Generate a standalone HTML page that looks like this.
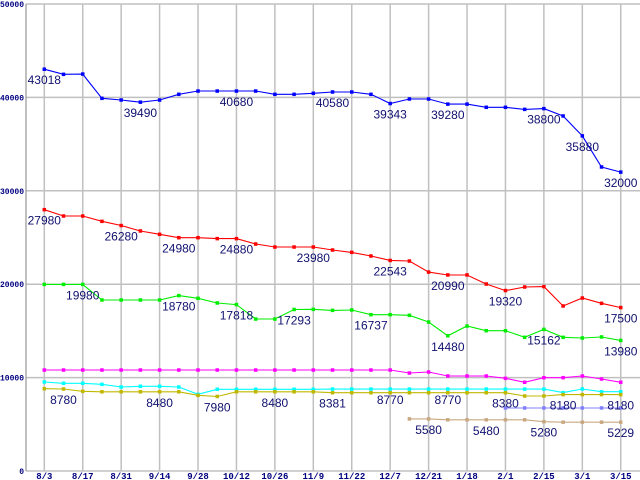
<!DOCTYPE html>
<html><head><meta charset="utf-8"><style>
html,body{margin:0;padding:0;background:#fff;}
svg{display:block;}
</style></head><body>
<svg id="chart" width="640" height="480" xmlns="http://www.w3.org/2000/svg" font-family="Liberation Sans, sans-serif">
<g id="grid"></g>
<g id="series"></g>
<g id="labels"></g>
<g id="axes"></g>
</svg>
<script>
const categories = ["8/3","","8/17","","8/31","","9/14","","9/28","","10/12","","10/26","","11/9","","11/22","","12/7","","12/21","","1/18","","2/1","","2/15","","3/1","","3/15"];
const yTicks = [0,10000,20000,30000,40000,50000];
const blueValues = [43018,42470,42500,39900,39720,39490,39720,40330,40680,40680,40680,40680,40330,40330,40440,40580,40580,40330,39343,39830,39830,39280,39280,38940,38940,38720,38800,38010,35880,32550,32000];
const redValues = [27980,27300,27300,26730,26280,25700,25340,24980,24980,24880,24880,24300,23980,23980,23980,23660,23410,23020,22543,22480,21300,20990,20990,20020,19320,19700,19740,17670,18520,17950,17500];
const greenValues = [19980,19980,19980,18310,18310,18310,18310,18780,18490,17990,17818,16270,16270,17293,17310,17200,17240,16737,16737,16670,15950,14480,15520,15020,15020,14310,15162,14310,14240,14350,13980];
const magentaValues = [10810,10810,10810,10810,10810,10810,10810,10810,10810,10810,10810,10810,10810,10810,10810,10810,10810,10810,10810,10490,10600,10170,10170,10170,9920,9500,9990,9990,10170,9850,9500];
const cyanValues = [9530,9390,9390,9280,8990,9070,9070,8990,8210,8750,8750,8750,8750,8750,8750,8770,8770,8770,8770,8770,8770,8770,8770,8770,8770,8770,8770,8390,8780,8490,8490];
const yellowValues = [8810,8780,8530,8480,8480,8480,8480,8480,8100,7980,8480,8480,8480,8480,8480,8381,8380,8380,8380,8380,8380,8380,8380,8380,8380,8030,8030,8180,8180,8180,8180];
const lavenderValues = [null,null,null,null,null,null,null,null,null,null,null,null,null,null,null,null,null,null,null,null,null,null,null,null,6750,6750,6750,6750,6750,6750,6750];
const tanValues = [null,null,null,null,null,null,null,null,null,null,null,null,null,null,null,null,null,null,null,5580,5580,5480,5480,5480,5480,5480,5280,5229,5229,5229,5229];
const seriesNames = ["blue","red","green","magenta","cyan","yellow","lavender","tan"];
const seriesColors = ["#0000ff","#ff0000","#00ee00","#ff00ff","#00ffff","#c0b800","#8080ff","#c8a880"];
const seriesData = [blueValues,redValues,greenValues,magentaValues,cyanValues,yellowValues,lavenderValues,tanValues];
const labelSeries = [0,0,0,0,0,0,0,0,0, 1,1,1,1,1,1,1,1,1, 2,2,2,2,2,2,2,2, 5,5,5,5,5,4,4,5,5,5, 7,7,7,7];
const labelIndex  = [0,5,10,15,18,21,26,28,30, 0,4,7,10,14,18,21,24,30, 2,7,10,13,17,21,26,30, 1,6,9,12,15,18,21,24,27,30, 20,23,26,30];

const NS="http://www.w3.org/2000/svg";
const L=26,T=4,B=471,R=640,X0=44.3,DX=19.215;
function xPos(i){return X0+i*DX;}
function yPos(v){return B-v*(B-T)/50000;}
function mk(tag,attrs,parent){const e=document.createElementNS(NS,tag);for(const k in attrs)e.setAttribute(k,attrs[k]);parent.appendChild(e);return e;}
const grid=document.getElementById('grid'),axes=document.getElementById('axes'),sg=document.getElementById('series'),lg=document.getElementById('labels');
yTicks.forEach(v=>{
  const y=yPos(v);
  const ln=mk('line',{x1:L,x2:R,y1:y,y2:y,stroke:'#c0c0c0','stroke-width':1.5},grid);
  
  
  const t=mk('text',{x:24,y:y+3,'text-anchor':'end','font-size':8,'font-weight':'bold',fill:'#000080','font-family':'Liberation Mono, monospace'},axes);
  t.textContent=String(v);
  
  
});
categories.forEach((c,i)=>{
  if(!c)return;
  const x=xPos(i);
  const ln=mk('line',{x1:x,x2:x,y1:T,y2:B,stroke:'#c0c0c0','stroke-width':1.5},grid);
  
  
  const t=mk('text',{x:x,y:479,'text-anchor':'middle','font-size':9,'font-weight':'bold',fill:'#000080','font-family':'Liberation Mono, monospace'},axes);
  t.textContent=c;
  
  
});
const ax=mk('line',{x1:L,x2:L,y1:T,y2:B,stroke:'#808080','stroke-width':1},axes);


seriesData.forEach((vals,s)=>{
  const g=mk('g',{},sg);
  
  
  let d='';
  vals.forEach((v,i)=>{if(v==null)return;d+=(d?'L':'M')+xPos(i).toFixed(1)+' '+yPos(v).toFixed(1);});
  const p=mk('path',{d:d,fill:'none',stroke:seriesColors[s],'stroke-width':1.1},g);
  
  
  vals.forEach((v,i)=>{
    if(v==null)return;
    const r=mk('rect',{x:xPos(i)-1.75,y:yPos(v)-1.75,width:3.5,height:3.5,fill:seriesColors[s]},g);
    
    
  });
});
labelSeries.forEach((s,k)=>{
  const i=labelIndex[k];const v=seriesData[s][i];
  const t=mk('text',{x:xPos(i),y:yPos(v)+15,'text-anchor':'middle','font-size':12,fill:'#101070'},lg);
  t.textContent=String(v);
  
  
});
</script>
</body></html>
